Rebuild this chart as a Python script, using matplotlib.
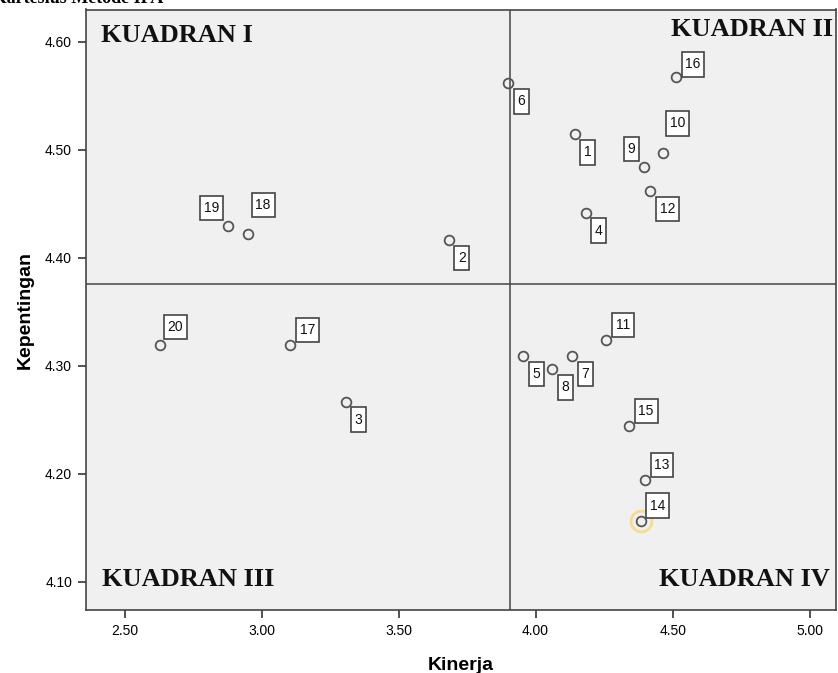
import matplotlib
matplotlib.use('Agg')
from matplotlib import pyplot as plt
from matplotlib.path import Path

plt.rcParams['font.family'] = ['Liberation Sans', 'DejaVu Sans']

# data
nomor = ['1', '2', '3', '4', '5', '6', '7', '8', '9', '10',
         '11', '12', '13', '14', '15', '16', '17', '18', '19', '20']
kinerja = [4.142, 3.683, 3.307, 4.183, 3.955, 3.900, 4.134, 4.061, 4.396, 4.464,
           4.257, 4.419, 4.399, 4.384, 4.341, 4.512, 3.105, 2.951, 2.879, 2.630]
kepentingan = [4.5145, 4.4165, 4.2666, 4.4418, 4.3090, 4.5617, 4.3090, 4.2967, 4.4842, 4.4968,
               4.3238, 4.4619, 4.1941, 4.1563, 4.2441, 4.5673, 4.3192, 4.4221, 4.4295, 4.3192]
# label offset (pixels) per point
geser = [(13, -18), (13, -18), (13, -18), (13, -18), (13, -18), (13, -18), (13, -18),
         (13, -18), (-13, 18), (15, 30), (17, 15), (17, -18), (17, 15), (17, 15),
         (17, 15), (17, 13), (17, 15), (15, 29), (-17, 18), (15, 18)]
rata_x = 3.908
rata_y = 4.376
xticks = [2.5, 3.0, 3.5, 4.0, 4.5, 5.0]
yticks = [4.1, 4.2, 4.3, 4.4, 4.5, 4.6]


def kotak(x0, y0, width, height, mutation_size):
    # box that is tall relative to the digits, like SPSS labels
    px = 0.27 * mutation_size
    py = 0.38 * mutation_size
    x0, y0 = x0 - px, y0 - py
    x1, y1 = x0 + width + 2 * px, y0 + height + 2 * py
    return Path([(x0, y0), (x1, y0), (x1, y1), (x0, y1), (x0, y0)], closed=True)


fig = plt.figure(figsize=(8.38, 6.73), dpi=100)
ax = fig.add_axes([86 / 838, 63 / 673, 750 / 838, 600.5 / 673])
ax.set_facecolor('#f0f0f0')

ax.axvline(rata_x, color='#444444', lw=1.1, zorder=1)
ax.axhline(rata_y, color='#444444', lw=1.1, zorder=1)

# highlighted point 14
ax.plot(kinerja[13], kepentingan[13], 'o', ms=15, mfc='none', mec='#f7dc8c', mew=2, zorder=2)
ax.plot(kinerja, kepentingan, 'o', ms=7, mfc='none', mec='#555555', mew=1.3, zorder=3)

for n, xv, yv, (dx, dy) in zip(nomor, kinerja, kepentingan, geser):
    ax.annotate(n, (xv, yv), xytext=(dx, dy), textcoords='offset pixels',
                ha='center', va='center', fontsize=10, color='#111111',
                bbox=dict(boxstyle=kotak, fc='white', ec='#444444', lw=1.2),
                zorder=4)

ax.set_xlim(2.3595, 5.096)
ax.set_ylim(4.0736, 4.6301)
ax.set_xticks(xticks)
ax.set_yticks(yticks)
ax.set_xticklabels(['%.2f' % v for v in xticks])
ax.set_yticklabels(['%.2f' % v for v in yticks])
ax.tick_params(labelsize=10, length=6, width=1.2, color='#333333', pad=4,
               top=False, right=False)
for s in ax.spines.values():
    s.set_color('#444444')
    s.set_linewidth(1.2)

ax.set_xlabel('Kinerja', fontsize=14, fontweight='bold', labelpad=14)
ax.set_ylabel('Kepentingan', fontsize=14, fontweight='bold', labelpad=8)

serif = dict(family='Liberation Serif', fontweight='bold', fontsize=19, color='#111111')
ax.text(0.020, 0.946, 'KUADRAN I', transform=ax.transAxes, ha='left', va='baseline', **serif)
ax.text(0.996, 0.956, 'KUADRAN II', transform=ax.transAxes, ha='right', va='baseline', **serif)
ax.text(0.021, 0.040, 'KUADRAN III', transform=ax.transAxes, ha='left', va='baseline', **serif)
ax.text(0.992, 0.040, 'KUADRAN IV', transform=ax.transAxes, ha='right', va='baseline', **serif)

fig.text(163 / 838, 1 - 3 / 673, 'Diagram Kartesius Metode IPA', ha='right', va='baseline',
         family='Liberation Serif', fontweight='bold', fontsize=13)

fig.savefig('out.png', dpi=100)
